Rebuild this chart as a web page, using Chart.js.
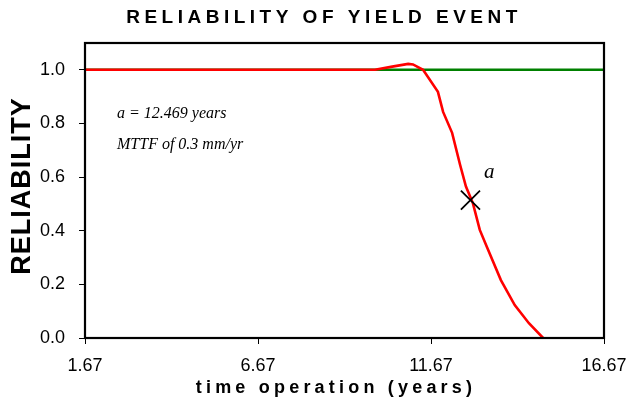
<!DOCTYPE html>
<html>
<head>
<meta charset="utf-8">
<script src="https://cdn.jsdelivr.net/npm/chart.js@4.4.1/dist/chart.umd.min.js"></script>
<style>
  html, body { margin: 0; padding: 0; background: #fff; }
  #wrap { width: 633px; height: 407px; }
</style>
</head>
<body>
<div id="wrap"><canvas id="relChart" width="633" height="407"></canvas></div>
<script>
// values
var xTicks = [1.67, 6.67, 11.67, 16.67];
var yTicks = [0, 0.2, 0.4, 0.6, 0.8, 1.0];

var redX = [1.67, 10.05, 10.55, 11.01, 11.15, 11.44, 11.87, 12.02, 12.28, 12.51, 12.68, 12.88, 13.08, 13.28, 13.69, 14.09, 14.50, 14.91];
var redY = [1.0, 1.0, 1.012, 1.022, 1.02, 1.0, 0.918, 0.843, 0.765, 0.646, 0.565, 0.503, 0.403, 0.341, 0.216, 0.123, 0.055, 0.0];

var greenX = [1.67, 16.67];
var greenY = [1.0, 1.0];

var markX = [12.81];
var markY = [0.514];

function toPoints(xs, ys) {
    var pts = [];
    for (var i = 0; i < xs.length; i++) {
        pts.push({ x: xs[i], y: ys[i] });
    }
    return pts;
}

// titles, box and notes drawn on top of the chart
var decorations = {
    id: 'decorations',
    afterDraw: function (chart) {
        var ctx = chart.ctx;
        var a = chart.chartArea;
        ctx.save();

        ctx.strokeStyle = '#000';
        ctx.lineWidth = 2.2;
        ctx.strokeRect(a.left, a.top, a.right - a.left, a.bottom - a.top);

        ctx.fillStyle = '#000';
        ctx.textAlign = 'center';
        ctx.textBaseline = 'middle';

        ctx.font = 'bold 19px "Liberation Sans", Arial, sans-serif';
        ctx.letterSpacing = '4.5px';
        ctx.fillText('RELIABILITY OF YIELD EVENT', 324, 18);

        ctx.font = 'bold 18px "Liberation Sans", Arial, sans-serif';
        ctx.letterSpacing = '4.2px';
        ctx.fillText('time operation (years)', 336, 388);

        ctx.save();
        ctx.translate(23, 186);
        ctx.rotate(-Math.PI / 2);
        ctx.font = 'bold 27px "Liberation Sans", Arial, sans-serif';
        ctx.letterSpacing = '1px';
        ctx.fillText('RELIABILITY', 0, 0);
        ctx.restore();

        ctx.letterSpacing = '0px';
        ctx.textAlign = 'left';
        ctx.font = 'italic 16px "Liberation Serif", "Times New Roman", serif';
        ctx.fillText('a = 12.469 years', 117, 114);
        ctx.fillText('MTTF of 0.3 mm/yr', 117, 145);

        ctx.font = 'italic 21px "Liberation Serif", "Times New Roman", serif';
        ctx.fillText('a', 484, 172);

        ctx.restore();
    }
};

var chart = new Chart(document.getElementById('relChart'), {
    type: 'scatter',
    data: {
        datasets: [{
            label: 'mark',
            data: toPoints(markX, markY),
            pointStyle: 'crossRot',
            pointRadius: 13.5,
            pointBorderWidth: 1.8,
            borderColor: '#000',
            backgroundColor: '#000',
            showLine: false,
            order: 0
        }, {
            label: 'reliability',
            data: toPoints(redX, redY),
            showLine: true,
            borderColor: '#ff0000',
            borderWidth: 2.6,
            pointRadius: 0,
            tension: 0,
            order: 1
        }, {
            label: 'limit',
            data: toPoints(greenX, greenY),
            showLine: true,
            borderColor: '#008000',
            borderWidth: 2.6,
            pointRadius: 0,
            order: 2
        }]
    },
    options: {
        responsive: false,
        animation: false,
        layout: { padding: { top: 43, right: 29, left: 0, bottom: 0 } },
        plugins: {
            legend: { display: false },
            tooltip: { enabled: false }
        },
        scales: {
            x: {
                type: 'linear',
                min: 1.67,
                max: 16.67,
                afterBuildTicks: function (s) {
                    s.ticks = xTicks.map(function (v) { return { value: v }; });
                },
                afterFit: function (s) {
                    s.height = 69;
                    s.paddingLeft = 0;
                    s.paddingRight = 0;
                },
                ticks: {
                    color: '#000',
                    padding: 11,
                    maxRotation: 0,
                    font: { family: '"Liberation Sans", Arial, sans-serif', size: 18 },
                    callback: function (v) { return v.toFixed(2); }
                },
                grid: { drawOnChartArea: false, drawTicks: true, tickLength: 6, color: '#000' },
                border: { display: true, color: '#000', width: 2 }
            },
            y: {
                min: 0,
                max: 1.1,
                afterBuildTicks: function (s) {
                    s.ticks = yTicks.map(function (v) { return { value: v }; });
                },
                afterFit: function (s) {
                    s.width = 85;
                    s.paddingTop = 0;
                    s.paddingBottom = 0;
                },
                ticks: {
                    color: '#000',
                    padding: 14,
                    font: { family: '"Liberation Sans", Arial, sans-serif', size: 18 },
                    callback: function (v) { return v.toFixed(1); }
                },
                grid: { drawOnChartArea: false, drawTicks: true, tickLength: 6, color: '#000' },
                border: { display: true, color: '#000', width: 2 }
            }
        }
    },
    plugins: [decorations]
});
</script>
</body>
</html>
